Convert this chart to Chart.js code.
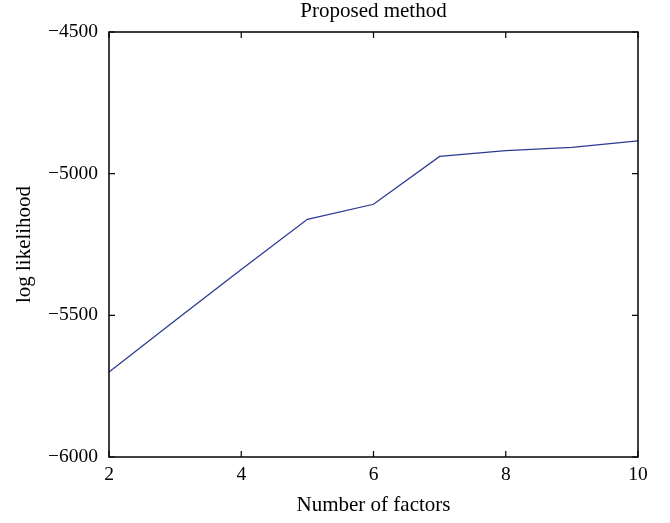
<!DOCTYPE html>
<html>
<head>
<meta charset="utf-8">
<script src="https://cdn.jsdelivr.net/npm/chart.js@4/dist/chart.umd.min.js"></script>
<style>
html,body{margin:0;padding:0;background:#fff;}
#wrap{width:670px;height:523px;position:relative;}
</style>
</head>
<body>
<div id="wrap"><canvas id="c" width="670" height="523"></canvas></div>
<script>
const factors = [2, 3, 4, 5, 6, 7, 8, 9, 10];
const logLikelihood = [-5700, -5518, -5338, -5161, -5108, -4939, -4919, -4907, -4884];
const xTicks = [2, 4, 6, 8, 10];
const yTicks = [-6000, -5500, -5000, -4500];
const chartTitle = "Proposed method";
const xTitle = "Number of factors";
const yTitle = "log likelihood";

const FONT = "'Liberation Serif', 'DejaVu Serif', serif";

const framePlugin = {
  id: 'frame',
  afterDraw(chart) {
    const ctx = chart.ctx;
    const a = chart.chartArea;
    const xs = chart.scales.x, ys = chart.scales.y;
    ctx.save();
    ctx.strokeStyle = '#000';
    ctx.lineWidth = 1.5;
    ctx.strokeRect(a.left, a.top, a.right - a.left, a.bottom - a.top);
    ctx.lineWidth = 1.2;
    const L = 6;
    ctx.beginPath();
    xTicks.forEach(v => {
      const px = xs.getPixelForValue(v);
      ctx.moveTo(px, a.bottom); ctx.lineTo(px, a.bottom - L);
      ctx.moveTo(px, a.top); ctx.lineTo(px, a.top + L);
    });
    yTicks.forEach(v => {
      const py = ys.getPixelForValue(v);
      ctx.moveTo(a.left, py); ctx.lineTo(a.left + L, py);
      ctx.moveTo(a.right, py); ctx.lineTo(a.right - L, py);
    });
    ctx.stroke();
    ctx.fillStyle = '#000';
    ctx.font = "21px " + FONT;
    ctx.textAlign = 'center';
    ctx.textBaseline = 'middle';
    ctx.fillText(chartTitle, (a.left + a.right) / 2, 11);
    ctx.restore();
  }
};

new Chart(document.getElementById('c'), {
  type: 'line',
  data: {
    datasets: [{
      data: factors.map((f, i) => ({x: f, y: logLikelihood[i]})),
      borderColor: '#2b3a93',
      borderWidth: 1.3,
      pointRadius: 0,
      tension: 0,
      fill: false
    }]
  },
  options: {
    responsive: false,
    animation: false,
    devicePixelRatio: 1,
    layout: {padding: {top: 32, right: 32, left: 0, bottom: 0}},
    plugins: {legend: {display: false}, tooltip: {enabled: false}, title: {display: false}},
    scales: {
      x: {
        type: 'linear', min: 2, max: 10,
        afterBuildTicks: s => { s.ticks = xTicks.map(v => ({value: v})); },
        afterFit: s => { s.height = 66; },
        grid: {display: false, drawTicks: false},
        border: {display: false},
        ticks: {color: '#000', padding: 6, font: {family: FONT, size: 19.5}},
        title: {display: true, text: xTitle, color: '#000', font: {family: FONT, size: 21}, padding: {top: 0, bottom: 5}}
      },
      y: {
        type: 'linear', min: -6000, max: -4500,
        afterBuildTicks: s => { s.ticks = yTicks.map(v => ({value: v})); },
        afterFit: s => { s.width = 109; },
        grid: {display: false, drawTicks: false},
        border: {display: false},
        ticks: {color: '#000', padding: 11, font: {family: FONT, size: 19.5},
          callback: v => String(v).replace('-', '\u2212')},
        title: {display: true, text: yTitle, color: '#000', font: {family: FONT, size: 21}, padding: {top: 12, bottom: 0}}
      }
    }
  },
  plugins: [framePlugin]
});
</script>
</body>
</html>
